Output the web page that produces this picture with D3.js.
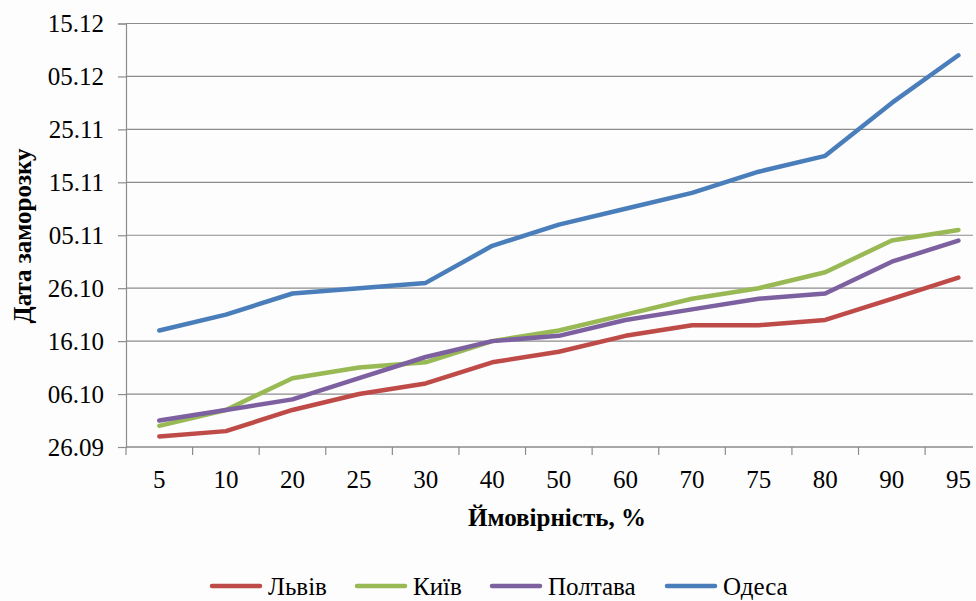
<!DOCTYPE html>
<html><head><meta charset="utf-8">
<script src="https://cdn.jsdelivr.net/npm/d3@7"></script>
<style>html,body{margin:0;padding:0;background:#fff}svg{display:block}
svg text{font-family:"Times New Roman","Liberation Serif",Tinos,"DejaVu Serif",serif;}</style>
</head><body><svg id="c" width="976" height="601"></svg>
<script>
const categories = ["5","10","20","25","30","40","50","60","70","75","80","90","95"];
// days after 26.09
const lviv    = [2,3,7,10,12,16,18,21,23,23,24,28,32];
const kyiv    = [4,7,13,15,16,20,22,25,28,30,33,39,41];
const poltava = [5,7,9,13,17,20,21,24,26,28,29,35,39];
const odesa   = [22,25,29,30,31,38,42,45,48,52,55,65,74];
const yTickValues = [0,10,20,30,40,50,60,70,80];
const yTickLabels = ["26.09","06.10","16.10","26.10","05.11","15.11","25.11","05.12","15.12"];
const seriesNames = ["Львів","Київ","Полтава","Одеса"];
const seriesColors = ["#BE4B48","#98B954","#7D60A0","#4A7EBB"];
const seriesData = [lviv, kyiv, poltava, odesa];

(function(){
const svg = d3.select("#c");
const mLeft = 126, mRight = 991.7, mTop = 23.5, mBottom = 447, gridEnd = 973;

svg.append("rect").attr("width",976).attr("height",601).attr("fill","#fdfdfd");

const x = d3.scaleBand().domain(categories).range([mLeft, mRight]);
const y = d3.scaleLinear().domain([0,80]).range([mBottom, mTop]);

svg.append("g").selectAll("line").data(yTickValues).join("line")
  .attr("x1", mLeft).attr("x2", gridEnd)
  .attr("y1", d=>y(d)).attr("y2", d=>y(d))
  .attr("stroke","#8c8c8c").attr("stroke-width",1.2);

const yAxis = d3.axisLeft(y).tickValues(yTickValues)
  .tickFormat((d,i)=>yTickLabels[i]).tickSize(8).tickPadding(14);
const gy = svg.append("g").attr("transform",`translate(${mLeft},0)`).call(yAxis);
gy.attr("font-family",null);
gy.select(".domain").attr("stroke","#8c8c8c").attr("stroke-width",1.2);
gy.selectAll(".tick line").attr("stroke","#8c8c8c").attr("stroke-width",1.2);
gy.selectAll("text").attr("font-size",25).attr("fill","#000");

const gx = svg.append("g").attr("transform",`translate(0,${mBottom})`);
gx.append("line").attr("x1",mLeft).attr("x2",gridEnd).attr("y1",0).attr("y2",0)
  .attr("stroke","#8c8c8c").attr("stroke-width",1.2);
const tickXs = categories.map(c=>x(c));
gx.selectAll("line.t").data(tickXs).join("line").attr("class","t")
  .attr("x1",d=>d).attr("x2",d=>d).attr("y1",0).attr("y2",8)
  .attr("stroke","#8c8c8c").attr("stroke-width",1.2);
gx.selectAll("text").data(categories).join("text")
  .attr("x",d=>x(d)+x.bandwidth()/2).attr("y",41)
  .attr("text-anchor","middle").attr("font-size",25)
  .attr("fill","#000").text(d=>d);

const line = d3.line().x((d,i)=>x(categories[i])+x.bandwidth()/2).y(d=>y(d));
seriesData.forEach((s,k)=>{
  svg.append("path").datum(s).attr("d",line).attr("fill","none")
    .attr("stroke",seriesColors[k]).attr("stroke-width",4.5)
    .attr("stroke-linejoin","round").attr("stroke-linecap","round");
});

svg.append("text").attr("transform","translate(31,236) rotate(-90)")
  .attr("text-anchor","middle").attr("font-weight","bold")
  .attr("font-size",25).attr("fill","#000").text("Дата заморозку");
svg.append("text").attr("x",557).attr("y",526)
  .attr("text-anchor","middle").attr("font-weight","bold")
  .attr("font-size",25).attr("fill","#000").text("Ймовірність, %");

const legX = [212, 357, 492, 667];
const lg = svg.append("g");
seriesNames.forEach((n,k)=>{
  lg.append("line").attr("x1",legX[k]).attr("x2",legX[k]+48).attr("y1",586).attr("y2",586)
    .attr("stroke",seriesColors[k]).attr("stroke-width",4.5).attr("stroke-linecap","round");
  lg.append("text").attr("x",legX[k]+56).attr("y",595)
    .attr("font-size",25).attr("fill","#000").text(n);
});
})();
</script></body></html>
